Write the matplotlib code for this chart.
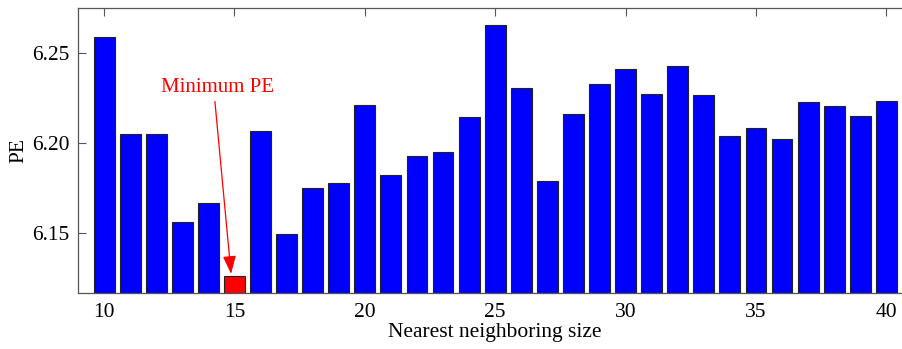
import matplotlib.pyplot as plt

plt.rcParams['font.family'] = ['Liberation Serif', 'DejaVu Serif']

sizes = list(range(10, 41))
pe = [6.2586, 6.2048, 6.2047, 6.1561, 6.1663, 6.1259, 6.2067, 6.1491,
      6.1747, 6.1778, 6.2209, 6.1821, 6.1926, 6.1950, 6.2144, 6.2652,
      6.2302, 6.1787, 6.2159, 6.2326, 6.2409, 6.2269, 6.2426, 6.2265,
      6.2037, 6.2083, 6.2021, 6.2224, 6.2202, 6.2147, 6.2230]
best = pe.index(min(pe))
colors = ['#ff0000' if i == best else '#0000ff' for i in range(len(pe))]

fig = plt.figure(figsize=(9.03, 3.49), dpi=100)
ax = fig.add_axes([0.0864, 0.1605, 0.924, 0.8165])

ymin = 6.1165
ax.bar(sizes, [v - ymin for v in pe], bottom=ymin, width=0.8,
       color=colors, edgecolor='#222222', linewidth=0.8)

ax.set_xlim(9, 41)
ax.set_ylim(ymin, 6.2747)
ax.set_xticks(range(10, 41, 5))
ax.set_yticks([6.15, 6.20, 6.25])
ax.set_yticklabels(['6.15', '6.20', '6.25'])
ax.tick_params(direction='in', length=6, width=0.8, colors='#555555',
               labelcolor='black', labelsize=15.5, top=True, right=True,
               bottom=False)
ax.tick_params(axis='x', pad=7)
ax.tick_params(axis='y', pad=6)
for s in ax.spines.values():
    s.set_color('#555555')
    s.set_linewidth(0.9)

ax.set_xlabel('Nearest neighboring size', fontsize=15.5, labelpad=1)
ax.set_ylabel('PE', fontsize=15.5, labelpad=3)

# label for the smallest PE with an arrow down to its bar
ax.text(14.36, 6.2304, 'Minimum PE', color='#ff0000', fontsize=15,
        ha='center', va='center')
ax.annotate('', xy=(sizes[best] - 0.13, pe[best] + 0.0012),
            xytext=(14.25, 6.2228),
            arrowprops=dict(arrowstyle='-|>,head_length=1.1,head_width=0.4',
                            color='#ff0000', lw=0.9, shrinkA=0, shrinkB=0))

fig.savefig('out.png', dpi=100)
